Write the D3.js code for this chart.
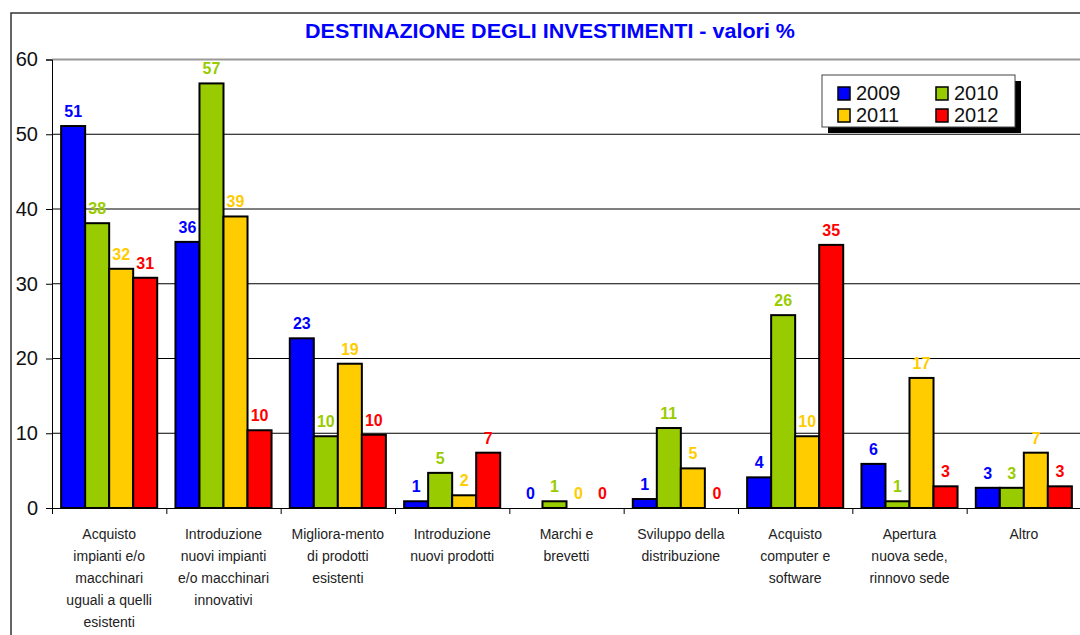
<!DOCTYPE html>
<html>
<head>
<meta charset="utf-8">
<script src="https://cdn.jsdelivr.net/npm/d3@7"></script>
<style>
  body { margin: 0; background: #fff; }
  svg { display: block; font-family: "Liberation Sans", Arial, sans-serif; }
</style>
</head>
<body>
<div id="chart"></div>
<script>
var categories = [
    "Acquisto|impianti e/o|macchinari|uguali a quelli|esistenti",
    "Introduzione|nuovi impianti|e/o macchinari|innovativi",
    "Migliora-mento|di prodotti|esistenti",
    "Introduzione|nuovi prodotti",
    "Marchi e|brevetti",
    "Sviluppo della|distribuzione",
    "Acquisto|computer e|software",
    "Apertura|nuova sede,|rinnovo sede",
    "Altro"
];
var years = ["2009", "2010", "2011", "2012"];
var v2009 = [51.1, 35.6, 22.7, 0.9, 0, 1.2, 4.1, 5.9, 2.7];
var v2010 = [38.1, 56.8, 9.6, 4.7, 0.9, 10.7, 25.8, 0.9, 2.7];
var v2011 = [32.0, 39.0, 19.3, 1.7, 0, 5.3, 9.6, 17.4, 7.4];
var v2012 = [30.8, 10.4, 9.8, 7.4, 0, 0, 35.2, 2.9, 2.9];
var yTicks = [0, 10, 20, 30, 40, 50, 60];
var colors = ["#0000ff", "#99cc00", "#ffcc00", "#ff0000"];

var width = 1080, height = 635;
var plot = { left: 52, right: 1081, top: 59.5, bottom: 508 };

var series = [v2009, v2010, v2011, v2012];

var svg = d3.select("#chart").append("svg")
    .attr("width", width)
    .attr("height", height);

// outer frame
svg.append("rect")
    .attr("x", 11).attr("y", 13)
    .attr("width", 1200).attr("height", 800)
    .attr("fill", "none")
    .attr("stroke", "#333")
    .attr("stroke-width", 1.5);

// title
svg.append("text")
    .attr("x", 550).attr("y", 38)
    .attr("text-anchor", "middle")
    .attr("fill", "#0000ff")
    .attr("font-weight", "bold")
    .attr("font-size", 20)
    .attr("textLength", 490)
    .attr("lengthAdjust", "spacingAndGlyphs")
    .text("DESTINAZIONE DEGLI INVESTIMENTI - valori %");

var x0 = d3.scaleBand()
    .domain(d3.range(categories.length))
    .range([plot.left, plot.right])
    .padding(0);

var x1 = d3.scaleBand()
    .domain(years)
    .range([0, x0.bandwidth()])
    .paddingInner(0)
    .paddingOuter(0.38);

var y = d3.scaleLinear()
    .domain([0, 60])
    .range([plot.bottom, plot.top]);

// gridlines
svg.append("g")
    .selectAll("line")
    .data(yTicks.filter(function(d) { return d > 0 && d < 60; }))
    .enter().append("line")
    .attr("x1", plot.left).attr("x2", plot.right)
    .attr("y1", function(d) { return y(d); })
    .attr("y2", function(d) { return y(d); })
    .attr("stroke", "#000")
    .attr("stroke-width", 1);

// plot area top border
svg.append("line")
    .attr("x1", plot.left).attr("x2", plot.right)
    .attr("y1", y(60)).attr("y2", y(60))
    .attr("stroke", "#999")
    .attr("stroke-width", 2);

// bars
var groups = svg.append("g")
    .selectAll("g")
    .data(categories)
    .enter().append("g")
    .attr("transform", function(d, i) { return "translate(" + x0(i) + ",0)"; });

groups.each(function(c, i) {
    var g = d3.select(this);
    var vals = series.map(function(s, k) { return { year: years[k], v: s[i], k: k }; });

    g.selectAll("rect")
        .data(vals.filter(function(d) { return d.v > 0; }))
        .enter().append("rect")
        .attr("x", function(d) { return x1(d.year); })
        .attr("y", function(d) { return y(d.v); })
        .attr("width", x1.bandwidth())
        .attr("height", function(d) { return y(0) - y(d.v); })
        .attr("fill", function(d) { return colors[d.k]; })
        .attr("stroke", "#000")
        .attr("stroke-width", 2);

    g.selectAll("text")
        .data(vals)
        .enter().append("text")
        .attr("x", function(d) { return x1(d.year) + x1.bandwidth() / 2; })
        .attr("y", function(d) { return y(d.v) - 9; })
        .attr("text-anchor", "middle")
        .attr("font-weight", "bold")
        .attr("font-size", 16)
        .attr("fill", function(d) { return colors[d.k]; })
        .text(function(d) { return Math.round(d.v); });
});

// y axis
var yAxis = svg.append("g")
    .attr("transform", "translate(" + plot.left + ",0)")
    .call(d3.axisLeft(y).tickValues(yTicks).tickSize(6).tickPadding(8));
yAxis.select(".domain").attr("stroke", "#000");
yAxis.selectAll("text")
    .attr("font-size", 20)
    .attr("font-family", "Liberation Sans, Arial, sans-serif")
    .attr("fill", "#111");

// x axis with boundary ticks
var xb = d3.scaleLinear().domain([0, categories.length]).range([plot.left, plot.right]);
var xAxis = svg.append("g")
    .attr("transform", "translate(0," + plot.bottom + ")")
    .call(d3.axisBottom(xb).tickValues(d3.range(categories.length + 1)).tickSize(6).tickFormat(""));
xAxis.select(".domain").attr("stroke", "#000");

// category labels
var lab = svg.append("g")
    .selectAll("text")
    .data(categories)
    .enter().append("text")
    .attr("text-anchor", "middle")
    .attr("font-size", 14)
    .attr("fill", "#222")
    .attr("transform", function(d, i) {
        return "translate(" + (x0(i) + x0.bandwidth() / 2) + ",539)";
    });
lab.selectAll("tspan")
    .data(function(d) { return d.split("|"); })
    .enter().append("tspan")
    .attr("x", 0)
    .attr("dy", function(d, i) { return i === 0 ? 0 : 22; })
    .text(function(d) { return d; });

// legend
var legend = svg.append("g").attr("transform", "translate(822,75)");
legend.append("rect")
    .attr("x", 6).attr("y", 6)
    .attr("width", 193).attr("height", 52)
    .attr("fill", "#000");
legend.append("rect")
    .attr("width", 193).attr("height", 52)
    .attr("fill", "#fff")
    .attr("stroke", "#444")
    .attr("stroke-width", 1);

var items = legend.selectAll("g.item")
    .data(years)
    .enter().append("g")
    .attr("class", "item")
    .attr("transform", function(d, i) {
        return "translate(" + (16 + (i % 2) * 98) + "," + (10 + Math.floor(i / 2) * 22) + ")";
    });
items.append("rect")
    .attr("width", 12).attr("height", 13)
    .attr("y", 2)
    .attr("fill", function(d, i) { return colors[i]; })
    .attr("stroke", "#000")
    .attr("stroke-width", 1.5);
items.append("text")
    .attr("x", 18).attr("y", 15)
    .attr("font-size", 20)
    .attr("fill", "#111")
    .text(function(d) { return d; });
</script>
</body>
</html>
